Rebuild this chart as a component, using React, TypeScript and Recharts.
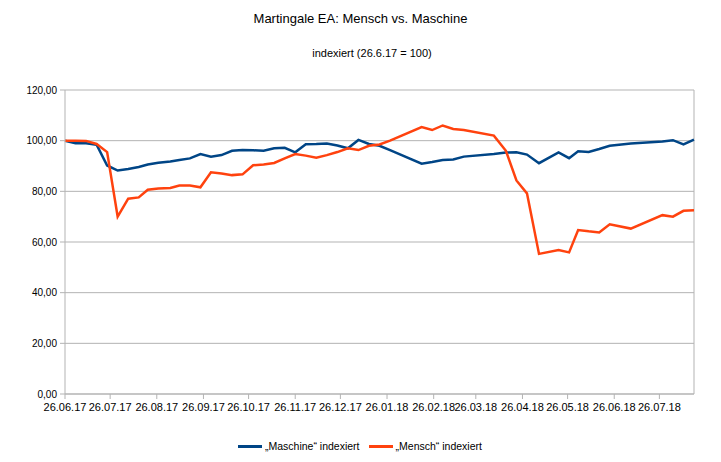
import React from 'react';
import { LineChart, Line, XAxis, YAxis, CartesianGrid, ReferenceLine } from 'recharts';

// days since 26.06.17
const dayOffsets = [
  0, 7, 14, 21, 28, 35, 42, 49, 55, 62, 70, 76, 83, 90, 97, 104, 111, 118, 125, 132,
  139, 146, 153, 160, 167, 174, 181, 188, 195, 202, 209, 216, 237, 244, 251, 258, 265,
  285, 293, 300, 307, 315, 328, 335, 341, 348, 355, 362, 376, 397, 404, 411, 418,
];

const maschine = [
  100, 99.0, 99.0, 98.4, 90.2, 88.2, 88.8, 89.6, 90.6, 91.3, 91.8, 92.4, 93.0, 94.7, 93.7,
  94.3, 96.0, 96.3, 96.2, 96.0, 97.0, 97.2, 95.4, 98.6, 98.7, 98.9, 98.1, 97.0, 100.3,
  98.7, 98.0, 96.3, 90.9, 91.6, 92.4, 92.6, 93.7, 94.7, 95.3, 95.4, 94.5, 91.1, 95.4,
  93.1, 95.8, 95.5, 96.7, 98.0, 98.9, 99.7, 100.2, 98.5, 100.4,
];

const mensch = [
  100, 100, 99.9, 98.7, 95.5, 70.0, 77.1, 77.6, 80.6, 81.1, 81.3, 82.3, 82.3, 81.6, 87.5,
  87.0, 86.4, 86.7, 90.3, 90.6, 91.2, 93.0, 94.7, 94.1, 93.3, 94.3, 95.5, 97.0, 96.3,
  98.0, 98.5, 100.0, 105.4, 104.2, 106.0, 104.6, 104.2, 102.0, 96.0, 84.3, 79.2, 55.3,
  56.8, 55.9, 64.7, 64.2, 63.8, 67.0, 65.3, 70.6, 70.0, 72.3, 72.5,
];

const tickLabels = [
  '26.06.17', '26.07.17', '26.08.17', '26.09.17', '26.10.17', '26.11.17', '26.12.17',
  '26.01.18', '26.02.18', '26.03.18', '26.04.18', '26.05.18', '26.06.18', '26.07.18',
];

const yTicks = [0, 20, 40, 60, 80, 100, 120];

const BLUE = '#004586';
const ORANGE = '#ff420e';
const GRID = '#b3b3b3';
const FONT = '"Liberation Sans", Arial, sans-serif';

const start = Date.UTC(2017, 5, 26);
const toDay = (label: string) => {
  const [d, m, y] = label.split('.').map(Number);
  return Math.round((Date.UTC(2000 + y, m - 1, d) - start) / 86400000);
};
const tickDays = tickLabels.map(toDay);
const lastDay = dayOffsets[dayOffsets.length - 1];

const chartData = dayOffsets.map((day, i) => ({
  day,
  maschine: maschine[i],
  mensch: mensch[i],
}));

export default function App() {
  return (
    <div style={{ position: 'absolute', left: 0, top: 0, width: 721, height: 462, background: '#fff', fontFamily: FONT }}>
      <div style={{ position: 'absolute', top: 11, left: 0, width: 721, textAlign: 'center', fontSize: 13, color: '#000' }}>
        Martingale EA: Mensch vs. Maschine
      </div>
      <div style={{ position: 'absolute', top: 47, left: 22, width: 700, textAlign: 'center', fontSize: 11, color: '#000' }}>
        indexiert (26.6.17 = 100)
      </div>
      <LineChart
        width={721}
        height={462}
        data={chartData}
        margin={{ top: 90, right: 27, bottom: 38, left: 0 }}
      >
        <CartesianGrid vertical={false} stroke={GRID} strokeWidth={1} />
        <ReferenceLine x={lastDay} stroke={GRID} />
        <XAxis
          dataKey="day"
          type="number"
          domain={[0, lastDay]}
          ticks={tickDays}
          interval={0}
          tickFormatter={(v: number) => tickLabels[tickDays.indexOf(v)] ?? ''}
          stroke={GRID}
          tick={{ fill: '#000', fontSize: 11, fontFamily: FONT }}
          tickSize={5}
          tickMargin={4}
          height={30}
        />
        <YAxis
          type="number"
          domain={[0, 120]}
          ticks={yTicks}
          interval={0}
          tickFormatter={(v: number) => v.toFixed(2).replace('.', ',')}
          stroke={GRID}
          tick={{ fill: '#000', fontSize: 10, fontFamily: FONT }}
          tickSize={5}
          tickMargin={3}
          width={65}
        />
        <Line
          type="linear"
          dataKey="maschine"
          stroke={BLUE}
          strokeWidth={2.5}
          dot={false}
          isAnimationActive={false}
        />
        <Line
          type="linear"
          dataKey="mensch"
          stroke={ORANGE}
          strokeWidth={2.5}
          dot={false}
          isAnimationActive={false}
        />
      </LineChart>
      <div style={{ position: 'absolute', top: 440, left: 238, display: 'flex', alignItems: 'center', fontSize: 10.5, color: '#000' }}>
        <span style={{ display: 'inline-block', width: 24, height: 3, background: BLUE, marginRight: 3 }} />
        <span style={{ marginRight: 9 }}>„Maschine“ indexiert</span>
        <span style={{ display: 'inline-block', width: 24, height: 3, background: ORANGE, marginRight: 3 }} />
        <span>„Mensch“ indexiert</span>
      </div>
    </div>
  );
}
